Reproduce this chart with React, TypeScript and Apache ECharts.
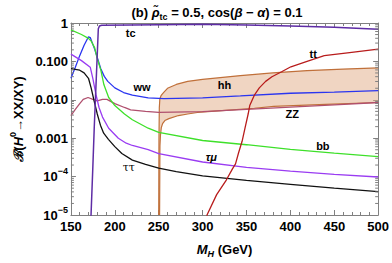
import React, { useEffect, useRef } from "react";
import * as echarts from "echarts";

const FONT = "'Liberation Sans', Arial, sans-serif";

const xTickValues = [150, 200, 250, 300, 350, 400, 450, 500];
const yTickExponents = [-5, -4, -3, -2, -1, 0];
const yTickLabels = ["10{sup|−5}", "10{sup|−4}", "0.001", "0.010", "0.100", "1"];
const yMinorMultipliers = [2, 3, 4, 5, 6, 7, 8, 9];

// [M_H (GeV), log10 of branching ratio]
const tcCurve: [number, number][] = [
  [172.4, -5.3], [172.9, -5.0], [174.8, -3.85], [176.6, -2.7], [178.9, -1.43], [181.2, -0.15],
  [182.5, -0.08], [185, -0.06], [250, -0.045], [300, -0.035], [350, -0.05], [400, -0.076],
  [450, -0.11], [500, -0.16],
];
const wwCurve: [number, number][] = [
  [150, -1.44], [155, -1.15], [160, -0.85], [165, -0.58], [170, -0.36], [172, -0.38], [177, -0.68],
  [180, -0.9], [184, -1.19], [188, -1.39], [192, -1.52], [200, -1.69], [210, -1.81], [220, -1.88],
  [238, -1.95], [256, -1.97], [300, -1.95], [343, -1.9], [400, -1.83], [450, -1.8], [500, -1.76],
];
const bbCurve: [number, number][] = [
  [150, -0.18], [162, -0.3], [170, -0.4], [173, -0.47], [177, -0.64], [180, -0.93], [184, -1.22],
  [187.6, -1.61], [193, -1.94], [200, -2.15], [211, -2.37], [220, -2.52], [238, -2.74], [250, -2.85],
  [300, -3.06], [350, -3.17], [400, -3.29], [450, -3.39], [500, -3.48],
];
const taumuCurve: [number, number][] = [
  [150, -0.81], [162, -0.98], [172, -1.15], [175, -1.45], [178.5, -1.86], [182, -2.2], [186, -2.45],
  [193, -2.74], [204, -3.0], [213, -3.13], [220, -3.19], [238, -3.3], [250, -3.4], [300, -3.62],
  [350, -3.76], [400, -3.86], [450, -3.94], [500, -4.01],
];
const tautauCurve: [number, number][] = [
  [150, -1.19], [160, -1.23], [165, -1.3], [170, -1.44], [173, -1.69], [176.4, -2.03], [180, -2.37],
  [183.6, -2.66], [187.3, -2.87], [192.7, -3.03], [200, -3.22], [208, -3.4], [220, -3.57], [235, -3.68],
  [250, -3.78], [270, -3.87], [300, -3.98], [350, -4.1], [400, -4.2], [450, -4.3], [500, -4.39],
];
const zzCurve: [number, number][] = [
  [150, -2.41], [155, -2.25], [160, -2.1], [164, -1.99], [169.5, -1.94], [175, -1.99], [180, -2.03],
  [186, -1.99], [191, -1.99], [200, -2.1], [211, -2.2], [218, -2.26], [235, -2.3], [250, -2.33],
  [300, -2.31], [350, -2.25], [400, -2.19], [450, -2.13], [500, -2.07],
];
const hhUpper: [number, number][] = [
  [250, -5], [250.3, -3.0], [250.7, -2.2], [251.3, -1.98], [252.5, -1.9], [254, -1.85], [256, -1.8],
  [260, -1.7], [270, -1.6], [283, -1.52], [300, -1.47], [343, -1.37], [380, -1.3], [419, -1.24],
  [460, -1.2], [500, -1.17],
];
const hhLower: [number, number][] = [
  [251, -5], [251.4, -3.2], [252, -2.92], [253, -2.72], [254.4, -2.62], [257, -2.54], [261.6, -2.49],
  [272.5, -2.41], [283, -2.37], [294, -2.33], [322, -2.28], [359, -2.22], [381, -2.17], [440, -2.12],
  [500, -2.07],
];
const ttCurve: [number, number][] = [
  [304, -5.3], [305, -5.0], [316, -4.47], [327, -4.09], [334, -3.8], [337.5, -3.67], [341, -3.38],
  [345, -3.08], [348.3, -2.74], [351.9, -2.37], [353.7, -2.15], [359.2, -1.87], [364.6, -1.69],
  [371.8, -1.52], [379, -1.4], [390, -1.27], [400.6, -1.14], [419, -1.0], [438.6, -0.85],
  [467.5, -0.77], [500, -0.68],
];

const labelTexts = ["tc", "ww", "hh", "tt", "ZZ", "bb", "τμ", "ττ"];
const labelX = [218, 231, 325, 426, 402, 437, 310, 216];
const labelExp = [-0.25, -1.67, -1.62, -0.81, -2.37, -3.21, -3.5, -3.76];

const toData = (c: [number, number][]) => c.map(([x, e]) => [x, Math.pow(10, e)]);

export default function App() {
  const ref = useRef<HTMLDivElement>(null);
  useEffect(() => {
    if (!ref.current) return;
    const chart = echarts.init(ref.current, undefined, { renderer: "svg" });
    const frame = "#808080";
    const lineSeries = (name: string, c: [number, number][], color: string, width = 1.3, z = 3) => ({
      name,
      type: "line",
      data: toData(c),
      showSymbol: false,
      symbol: "none",
      clip: true,
      z,
      lineStyle: { color, width },
      itemStyle: { color },
      silent: true,
    });
    const upperData = toData(hhUpper);
    const lowerData = toData(hhLower);
    const minorTickValues: number[] = [];
    yTickExponents.slice(0, -1).forEach((e) =>
      yMinorMultipliers.forEach((m) => minorTickValues.push(m * Math.pow(10, e)))
    );
    chart.setOption({
      animation: false,
      backgroundColor: "#ffffff",
      textStyle: { fontFamily: FONT },
      grid: { left: 57, right: 12, top: 23, bottom: 42, containLabel: false },
      xAxis: [
        {
          type: "value",
          min: 150,
          max: 500,
          interval: 50,
          position: "bottom",
          axisLine: { show: true, onZero: false, lineStyle: { color: frame, width: 1 } },
          axisTick: { show: true, inside: true, length: 5, lineStyle: { color: frame } },
          minorTick: { show: true, splitNumber: 5, length: 3, lineStyle: { color: frame } },
          splitLine: { show: false },
          axisLabel: {
            color: "#000",
            fontWeight: "bold",
            fontSize: 13,
            fontFamily: FONT,
            margin: 5,
            formatter: (v: number) => (xTickValues.includes(v) ? String(v) : ""),
          },
          name: "{i|M}{sub|H} (GeV)",
          nameLocation: "middle",
          nameGap: 25,
          nameTextStyle: {
            color: "#000",
            fontWeight: "bold",
            fontSize: 13,
            fontFamily: FONT,
            rich: {
              i: { fontStyle: "italic", fontWeight: "bold", fontSize: 13, fontFamily: FONT },
              sub: { fontStyle: "italic", fontWeight: "bold", fontSize: 9, verticalAlign: "bottom", lineHeight: 18, fontFamily: FONT },
            },
          },
        },
        {
          type: "value",
          min: 150,
          max: 500,
          interval: 50,
          position: "top",
          axisLine: { show: true, onZero: false, lineStyle: { color: frame, width: 1 } },
          axisTick: { show: true, inside: true, length: 5, lineStyle: { color: frame } },
          minorTick: { show: true, splitNumber: 5, length: 3, lineStyle: { color: frame } },
          splitLine: { show: false },
          axisLabel: { show: false },
        },
      ],
      yAxis: [
        {
          type: "log",
          logBase: 10,
          min: 1e-5,
          max: 1,
          interval: 1,
          position: "left",
          axisLine: { show: true, onZero: false, lineStyle: { color: frame, width: 1 } },
          axisTick: { show: true, inside: true, length: 5, lineStyle: { color: frame } },
          splitLine: { show: false },
          axisLabel: {
            color: "#000",
            fontWeight: "bold",
            fontSize: 13,
            fontFamily: FONT,
            margin: 3,
            formatter: (v: number) => {
              const e = Math.round(Math.log10(v));
              const i = yTickExponents.indexOf(e);
              return i >= 0 ? yTickLabels[i] : "";
            },
            rich: {
              sup: { fontSize: 9, fontWeight: "bold", verticalAlign: "top", lineHeight: 20, fontFamily: FONT },
            },
          },
          name: "{b|ℬ}({i|H}{sup|0}→XX/XY)",
          nameLocation: "middle",
          nameGap: 38,
          nameTextStyle: {
            color: "#000",
            fontWeight: "bold",
            fontSize: 13,
            fontFamily: FONT,
            rich: {
              b: { fontStyle: "italic", fontWeight: "bold", fontSize: 13, fontFamily: "'DejaVu Serif', serif" },
              i: { fontStyle: "italic", fontWeight: "bold", fontSize: 13, fontFamily: FONT },
              sup: { fontSize: 9, fontWeight: "bold", verticalAlign: "top", lineHeight: 20, fontFamily: FONT },
            },
          },
        },
        {
          type: "log",
          logBase: 10,
          min: 1e-5,
          max: 1,
          interval: 1,
          position: "right",
          axisLine: { show: true, onZero: false, lineStyle: { color: frame, width: 1 } },
          axisTick: { show: true, inside: true, length: 5, lineStyle: { color: frame } },
          splitLine: { show: false },
          axisLabel: { show: false },
        },
      ],
      series: [
        {
          type: "custom",
          name: "hhBand",
          z: 1,
          silent: true,
          data: [[300, 0.01]],
          encode: { x: 0, y: 1 },
          renderItem: (_params: any, api: any) => {
            const pts = upperData
              .map((p) => api.coord(p))
              .concat(lowerData.slice().reverse().map((p) => api.coord(p)));
            return {
              type: "polygon",
              shape: { points: pts },
              style: { fill: "rgba(226,172,134,0.5)", stroke: "none" },
            };
          },
        },
        {
          type: "custom",
          name: "yMinorTicks",
          z: 5,
          silent: true,
          data: minorTickValues.map((v) => [150, v]),
          encode: { x: 0, y: 1 },
          renderItem: (_params: any, api: any) => {
            const y = api.value(1);
            const [lx, ly] = api.coord([150, y]);
            const [rx] = api.coord([500, y]);
            return {
              type: "group",
              children: [
                { type: "line", shape: { x1: lx, y1: ly, x2: lx + 3, y2: ly }, style: { stroke: frame, lineWidth: 1 } },
                { type: "line", shape: { x1: rx, y1: ly, x2: rx - 3, y2: ly }, style: { stroke: frame, lineWidth: 1 } },
              ],
            };
          },
        },
        lineSeries("hhUpper", hhUpper, "#c0703a", 1.2, 2),
        lineSeries("hhLower", hhLower, "#c0703a", 1.2, 2),
        lineSeries("ZZ", zzCurve, "#b0506e", 1.3),
        lineSeries("ww", wwCurve, "#2a35f0", 1.3),
        lineSeries("bb", bbCurve, "#3ee02a", 1.3),
        lineSeries("taumu", taumuCurve, "#9a3cf2", 1.3),
        lineSeries("tautau", tautauCurve, "#111111", 1.3),
        lineSeries("tc", tcCurve, "#5e2ca5", 1.5),
        lineSeries("tt", ttCurve, "#b81c1c", 1.3),
      ],
    });

    const labelGraphics = labelTexts.map((t, i) => {
      const [px, py] = chart.convertToPixel({ gridIndex: 0 }, [labelX[i], Math.pow(10, labelExp[i])]) as number[];
      return {
        type: "text",
        x: px,
        y: py,
        z: 100,
        silent: true,
        style: {
          text: t,
          textAlign: "center",
          textVerticalAlign: "middle",
          fill: "#000",
          fontSize: 11,
          fontWeight: t === "ττ" ? "normal" : "bold",
          fontStyle: t === "τμ" ? "italic" : "normal",
          fontFamily: t === "ττ" ? "'DejaVu Serif', serif" : FONT,
        },
      };
    });
    chart.setOption({
      graphic: [
        {
          type: "text",
          x: 217,
          y: 12,
          z: 100,
          silent: true,
          style: {
            text: "(b) {g|ρ̃}{sub|tc} = 0.5, cos({g|β} − {g|α}) = 0.1",
            textAlign: "center",
            textVerticalAlign: "middle",
            fontFamily: FONT,
            fontWeight: "bold",
            fontSize: 13,
            fill: "#000",
            rich: {
              g: { fontStyle: "italic", fontWeight: "bold", fontSize: 13, fontFamily: FONT },
              sub: { fontSize: 9, fontWeight: "bold", verticalAlign: "bottom", lineHeight: 18, fontFamily: FONT },
            },
          },
        },
        ...labelGraphics,
      ],
    });
    return () => chart.dispose();
  }, []);
  return (
    <div
      ref={ref}
      style={{ position: "absolute", left: 0, top: 0, width: 392, height: 263, background: "#fff" }}
    />
  );
}
